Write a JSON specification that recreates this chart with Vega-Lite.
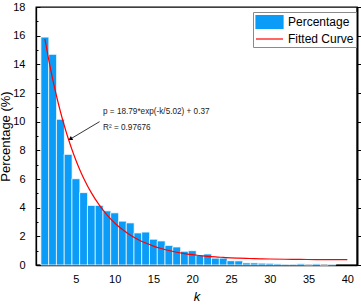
{
  "$schema": "https://vega.github.io/schema/vega-lite/v6.json",
  "width": 321,
  "height": 258,
  "autosize": "none",
  "padding": {"left": 36, "top": 7, "right": 4, "bottom": 40},
  "config": {
    "font": "Liberation Sans",
    "view": {"stroke": "#000000", "strokeWidth": 1.3},
    "axis": {"grid": false, "domainColor": "#000000", "domainWidth": 1.3, "tickColor": "#000000", "labelColor": "#000000", "titleColor": "#000000", "labelFont": "Liberation Sans", "titleFont": "Liberation Sans", "titleFontWeight": "normal"},
    "legend": {"orient": "none", "legendX": 217, "legendY": 5, "padding": 2,
      "strokeColor": "#8a8a8a", "fillColor": "#ffffff", "labelFontSize": 12, "labelFont": "Liberation Sans", "labelColor": "#000000",
      "symbolSize": 196, "labelOffset": 17, "rowPadding": 0}
  },
  "datasets": {
    "bars": [
      {"k": 1, "pct": 15.9}, {"k": 2, "pct": 14.7}, {"k": 3, "pct": 10.17}, {"k": 4, "pct": 7.72},
      {"k": 5, "pct": 6.02}, {"k": 6, "pct": 5.05}, {"k": 7, "pct": 4.16}, {"k": 8, "pct": 4.16},
      {"k": 9, "pct": 3.78}, {"k": 10, "pct": 3.64}, {"k": 11, "pct": 3.06}, {"k": 12, "pct": 2.94},
      {"k": 13, "pct": 2.24}, {"k": 14, "pct": 2.3}, {"k": 15, "pct": 1.8}, {"k": 16, "pct": 1.68},
      {"k": 17, "pct": 1.37}, {"k": 18, "pct": 1.26}, {"k": 19, "pct": 0.96}, {"k": 20, "pct": 1.0},
      {"k": 21, "pct": 0.68}, {"k": 22, "pct": 0.77}, {"k": 23, "pct": 0.48}, {"k": 24, "pct": 0.48},
      {"k": 25, "pct": 0.3}, {"k": 26, "pct": 0.29}, {"k": 27, "pct": 0.15}, {"k": 28, "pct": 0.15},
      {"k": 29, "pct": 0.13}, {"k": 30, "pct": 0.12}, {"k": 31, "pct": 0.08}, {"k": 32, "pct": 0.05},
      {"k": 33, "pct": 0.05}, {"k": 34, "pct": 0.09}, {"k": 35, "pct": 0.01}, {"k": 36, "pct": 0.08},
      {"k": 37, "pct": 0.0}, {"k": 38, "pct": 0.05}
    ],
    "curve": [
      {"k": 1, "p": 15.77}, {"k": 1.5, "p": 14.31}, {"k": 2, "p": 12.99}, {"k": 2.5, "p": 11.79},
      {"k": 3, "p": 10.71}, {"k": 3.5, "p": 9.73}, {"k": 4, "p": 8.84}, {"k": 4.5, "p": 8.04},
      {"k": 5, "p": 7.31}, {"k": 5.5, "p": 6.65}, {"k": 6, "p": 6.06}, {"k": 7, "p": 5.03},
      {"k": 8, "p": 4.19}, {"k": 9, "p": 3.5}, {"k": 10, "p": 2.93}, {"k": 11, "p": 2.47},
      {"k": 12, "p": 2.09}, {"k": 13, "p": 1.78}, {"k": 14, "p": 1.53}, {"k": 15, "p": 1.32},
      {"k": 16, "p": 1.15}, {"k": 17, "p": 1.01}, {"k": 18, "p": 0.89}, {"k": 19, "p": 0.8},
      {"k": 20, "p": 0.72}, {"k": 21, "p": 0.66}, {"k": 22, "p": 0.6}, {"k": 23, "p": 0.56},
      {"k": 24, "p": 0.53}, {"k": 25, "p": 0.5}, {"k": 26, "p": 0.48}, {"k": 27, "p": 0.46},
      {"k": 28, "p": 0.44}, {"k": 29, "p": 0.43}, {"k": 30, "p": 0.42}, {"k": 32, "p": 0.4},
      {"k": 34, "p": 0.39}, {"k": 36, "p": 0.38}, {"k": 38, "p": 0.38}, {"k": 40, "p": 0.38}
    ],
    "arrow": [{"k1": 8.05, "v1": 10.0, "k2": 4.2, "v2": 8.76}],
    "tip": [{"k": 4.35, "v": 8.81}],
    "notes": [
      {"k": 8.5, "v": 10.7, "label": "p = 18.79*exp(-k/5.02) + 0.37"},
      {"k": 8.5, "v": 9.58, "label": "R² = 0.97676"}
    ],
    "minor": [{"v": 1}, {"v": 3}, {"v": 5}, {"v": 7}, {"v": 9}, {"v": 11}, {"v": 13}, {"v": 15}, {"v": 17}]
  },
  "layer": [
    {
      "data": {"name": "bars"},
      "mark": {"type": "bar", "size": 8, "stroke": "#ffffff", "strokeWidth": 0.8},
      "encoding": {
        "x": {"field": "k", "type": "quantitative",
          "scale": {"domain": [0.5, 40.6], "nice": false, "zero": false},
          "axis": {"values": [5, 10, 15, 20, 25, 30, 35, 40], "ticks": false, "labelFontSize": 11, "labelPadding": 8, "title": "k", "titleFontSize": 13, "titleFontStyle": "italic", "titlePadding": 6}},
        "y": {"field": "pct", "type": "quantitative",
          "scale": {"domain": [0, 18], "nice": false},
          "axis": {"orient": "left", "values": [0, 2, 4, 6, 8, 10, 12, 14, 16, 18], "tickSize": -4, "tickWidth": 1, "labelFontSize": 11, "labelPadding": 15, "title": "Percentage (%)", "titleFontSize": 13, "titlePadding": 0}},
        "color": {"datum": "Percentage", "type": "nominal",
          "scale": {"domain": ["Percentage", "Fitted Curve"], "range": ["#0a9cf7", "#ff0000"]},
          "legend": {"title": null,
            "encode": {"symbols": {"update": {
              "shape": {"signal": "datum.value === 'Percentage' ? 'M-1,-0.93H2.86V0.93H-1Z' : 'M-1,0H2.86'"},
              "fill": {"signal": "datum.value === 'Percentage' ? '#0a9cf7' : 'transparent'"},
              "stroke": {"signal": "datum.value === 'Percentage' ? 'transparent' : '#ff0000'"},
              "strokeWidth": {"value": 1.2},
              "opacity": {"value": 1},
              "fillOpacity": {"value": 1},
              "strokeOpacity": {"value": 1}
            }}}}
        }
      }
    },
    {
      "data": {"name": "curve"},
      "mark": {"type": "line", "strokeWidth": 1.2, "interpolate": "monotone"},
      "encoding": {
        "x": {"field": "k", "type": "quantitative"},
        "y": {"field": "p", "type": "quantitative"},
        "color": {"datum": "Fitted Curve", "type": "nominal",
          "legend": {"title": null,
            "encode": {"symbols": {"update": {
              "shape": {"signal": "datum.value === 'Percentage' ? 'M-1,-0.93H2.86V0.93H-1Z' : 'M-1,0H2.86'"},
              "fill": {"signal": "datum.value === 'Percentage' ? '#0a9cf7' : 'transparent'"},
              "stroke": {"signal": "datum.value === 'Percentage' ? 'transparent' : '#ff0000'"},
              "strokeWidth": {"value": 1.2},
              "opacity": {"value": 1},
              "fillOpacity": {"value": 1},
              "strokeOpacity": {"value": 1}
            }}}}}
      }
    },
    {
      "data": {"name": "arrow"},
      "mark": {"type": "rule", "color": "#000000", "strokeWidth": 0.8},
      "encoding": {
        "x": {"field": "k1", "type": "quantitative"},
        "y": {"field": "v1", "type": "quantitative"},
        "x2": {"field": "k2"},
        "y2": {"field": "v2"}
      }
    },
    {
      "data": {"name": "tip"},
      "mark": {"type": "point", "shape": "triangle", "filled": true, "color": "#000000", "size": 22, "angle": 240, "opacity": 1},
      "encoding": {
        "x": {"field": "k", "type": "quantitative"},
        "y": {"field": "v", "type": "quantitative"}
      }
    },
    {
      "data": {"name": "notes"},
      "mark": {"type": "text", "align": "left", "baseline": "middle", "fontSize": 8.2, "color": "#222222", "font": "Liberation Sans"},
      "encoding": {
        "x": {"field": "k", "type": "quantitative"},
        "y": {"field": "v", "type": "quantitative"},
        "text": {"field": "label"}
      }
    },
    {
      "data": {"name": "minor"},
      "mark": {"type": "point", "opacity": 0},
      "encoding": {
        "y": {"field": "v", "type": "quantitative",
          "axis": {"orient": "left", "values": [1, 3, 5, 7, 9, 11, 13, 15, 17], "labels": false, "domain": false, "tickSize": -2, "title": null}}
      }
    }
  ],
  "resolve": {"axis": {"y": "independent"}}
}
